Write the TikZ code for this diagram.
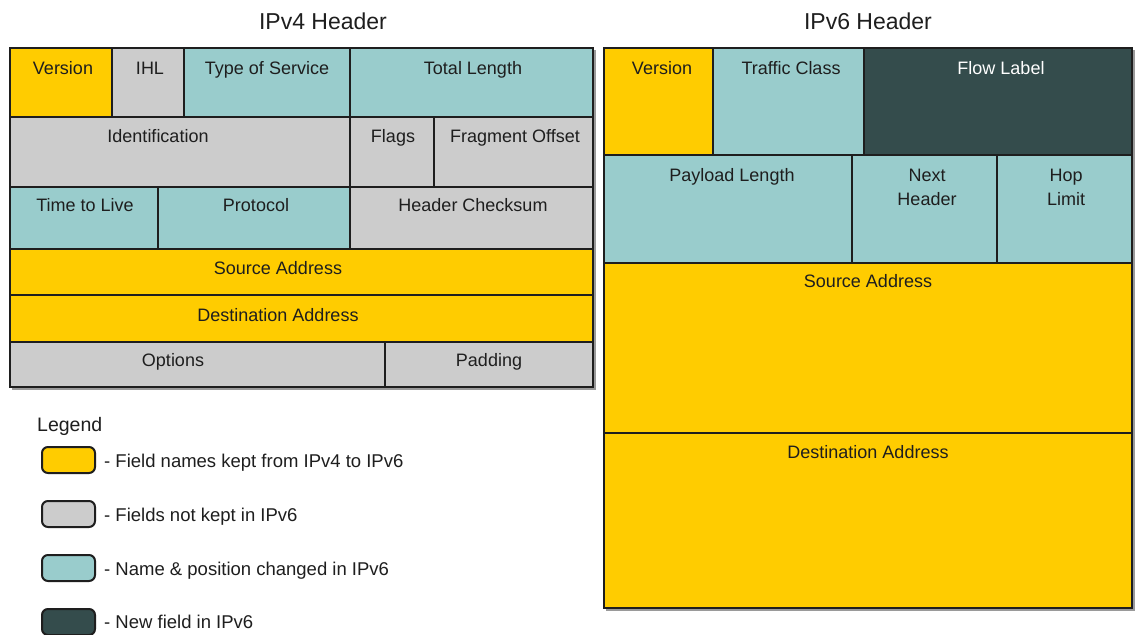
\documentclass[tikz,border=0pt]{standalone}
\usepackage{fontspec}
\setmainfont{Liberation Sans}
\definecolor{yel}{HTML}{FFCC00}
\definecolor{gry}{HTML}{CCCCCC}
\definecolor{tea}{HTML}{99CCCC}
\definecolor{drk}{HTML}{344C4C}
\definecolor{ink}{HTML}{1E1E1E}
\definecolor{shd}{HTML}{9A9A9A}
\begin{document}
\begin{tikzpicture}[x=1pt,y=-1pt,
  cell/.style={draw=ink, line width=2pt},
  outer/.style={draw=ink, line width=2.4pt},
  lbl/.style={anchor=base, inner sep=0pt, text=ink, font=\fontsize{18}{22}\selectfont},
  ttl/.style={anchor=base, inner sep=0pt, text=ink, font=\fontsize{23}{28}\selectfont},
  leg/.style={anchor=base west, inner sep=0pt, text=ink, font=\fontsize{18.5}{22}\selectfont},
  swatch/.style={draw=ink, line width=2pt, rounded corners=6pt}]
\useasboundingbox (0,0) rectangle (1139,634);
\fill[white] (0,0) rectangle (1139,634);
\clip (0,0) rectangle (1139,634);

% titles
\node[ttl] (t4) at (323,29.5) {IPv4 Header};
\node[ttl] (t6) at (868,29.5) {IPv6 Header};

% shadows
\fill[shd] (12,50) rectangle (595.5,389.5);
\fill[shd] (606,50) rectangle (1134.5,610.5);

% IPv4 cells
\path[cell,fill=yel] (10,48) rectangle (112,117);
\path[cell,fill=gry] (112,48) rectangle (184,117);
\path[cell,fill=tea] (184,48) rectangle (350,117);
\path[cell,fill=tea] (350,48) rectangle (593,117);
\path[cell,fill=gry] (10,117) rectangle (350,187);
\path[cell,fill=gry] (350,117) rectangle (434,187);
\path[cell,fill=gry] (434,117) rectangle (593,187);
\path[cell,fill=tea] (10,187) rectangle (158,249);
\path[cell,fill=tea] (158,187) rectangle (350,249);
\path[cell,fill=gry] (350,187) rectangle (593,249);
\path[cell,fill=yel] (10,249) rectangle (593,295);
\path[cell,fill=yel] (10,295) rectangle (593,342);
\path[cell,fill=gry] (10,342) rectangle (385,387);
\path[cell,fill=gry] (385,342) rectangle (593,387);
\path[outer] (10,48) rectangle (593,387);

% IPv4 labels
\node[lbl] (v4ver) at (63,74.5) {Version};
\node[lbl] (v4ihl) at (150,74.5) {IHL};
\node[lbl] (v4tos) at (267,74.5) {Type of Service};
\node[lbl] (v4tl) at (473,74.5) {Total Length};
\node[lbl] (v4id) at (158,142.5) {Identification};
\node[lbl] (v4fl) at (393,142.5) {Flags};
\node[lbl] (v4fo) at (515,142.5) {Fragment Offset};
\node[lbl] (v4ttl) at (85,211.5) {Time to Live};
\node[lbl] (v4pr) at (256,211.5) {Protocol};
\node[lbl] (v4hc) at (473,211.5) {Header Checksum};
\node[lbl] (v4sa) at (278,274.5) {Source Address};
\node[lbl] (v4da) at (278,321.5) {Destination Address};
\node[lbl] (v4op) at (173,366.5) {Options};
\node[lbl] (v4pd) at (489,366.5) {Padding};

% IPv6 cells
\path[cell,fill=yel] (604,48) rectangle (713,155);
\path[cell,fill=tea] (713,48) rectangle (864,155);
\path[cell,fill=drk] (864,48) rectangle (1132,155);
\path[cell,fill=tea] (604,155) rectangle (852,263);
\path[cell,fill=tea] (852,155) rectangle (997,263);
\path[cell,fill=tea] (997,155) rectangle (1132,263);
\path[cell,fill=yel] (604,263) rectangle (1132,433);
\path[cell,fill=yel] (604,433) rectangle (1132,608);
\path[outer] (604,48) rectangle (1132,608);

% IPv6 labels
\node[lbl] (v6ver) at (662,74.5) {Version};
\node[lbl] (v6tc) at (791,74.5) {Traffic Class};
\node[lbl,text=white] (v6fl) at (1001,74.5) {Flow Label};
\node[lbl] (v6pl) at (732,181.5) {Payload Length};
\node[lbl] (v6nh1) at (927,181.5) {Next};
\node[lbl] (v6nh2) at (927,205.5) {Header};
\node[lbl] (v6hl1) at (1066,181.5) {Hop};
\node[lbl] (v6hl2) at (1066,205.5) {Limit};
\node[lbl] (v6sa) at (868,287.5) {Source Address};
\node[lbl] (v6da) at (868,458.5) {Destination Address};

% legend
\node[leg,font=\fontsize{19.5}{23}\selectfont] (legt) at (37,431) {Legend};
\path[swatch,fill=yel] (42,447) rectangle (95,473);
\path[swatch,fill=gry] (42,501) rectangle (95,527);
\path[swatch,fill=tea] (42,555) rectangle (95,581);
\path[swatch,fill=drk] (42,609) rectangle (95,635);
\node[leg] (l1) at (104,467.5) {- Field names kept from IPv4 to IPv6};
\node[leg] (l2) at (104,521.5) {- Fields not kept in IPv6};
\node[leg] (l3) at (104,575.5) {- Name \& position changed in IPv6};
\node[leg] (l4) at (104,628.5) {- New field in IPv6};
\end{tikzpicture}
\end{document}
